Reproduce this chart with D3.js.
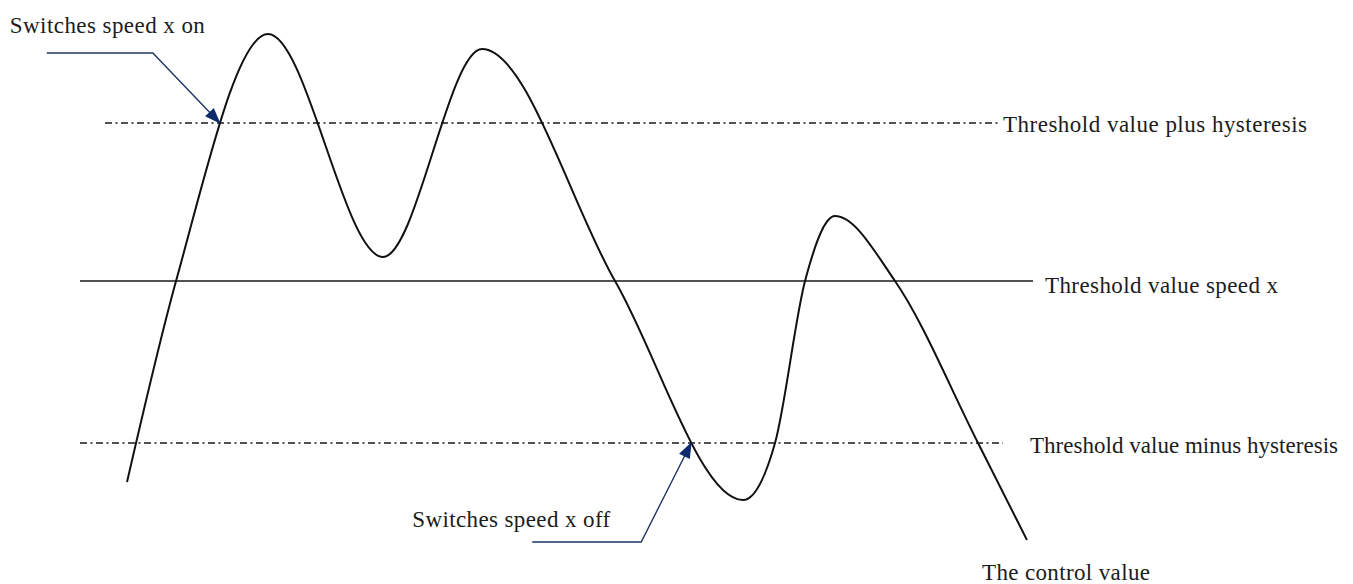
<!DOCTYPE html>
<html>
<head>
<meta charset="utf-8">
<script src="https://cdn.jsdelivr.net/npm/d3@7"></script>
<style>
  body { margin: 0; background: #fff; }
  text { font-family: "Liberation Serif", "Times New Roman", serif; fill: #1c1c1c; }
</style>
</head>
<body>
<script>
// control value over time (arbitrary units, threshold = 0, hysteresis = +/-1)
var timeVals    = [4.95, 10.11, 19.79, 31.89, 42.32, 56.32, 69.79, 73.16, 76.32, 79.47, 85.79, 94.53, 99.68];
var controlVals = [-1.272, 0, 1.563, 0.152, 1.468, 0, -1.386, -1.025, 0, 0.411, 0, -1.025, -1.639];

// the three horizontal levels
var levelNames  = ["Threshold value plus hysteresis", "Threshold value speed x", "Threshold value minus hysteresis"];
var levelVals   = [1, 0, -1.025];
var levelStart  = [2.63, 0, 0];
var levelEnd    = [96.95, 100.32, 97.16];
var levelDashed = [true, false, true];

// switching points: which level, and which crossing of it
var noteTexts = ["Switches speed x on", "Switches speed x off"];
var noteLevel = [0, 2];
var noteCross = [0, 1];
var curveName = "The control value";

var W = 1353, H = 584;
var x = d3.scaleLinear().domain([0, 100]).range([80, 1030]);
var y = d3.scaleLinear().domain([-1.025, 1]).range([443, 123]);

var svg = d3.select("body").append("svg")
  .attr("width", W)
  .attr("height", H);

svg.append("defs").append("marker")
  .attr("id", "head")
  .attr("markerUnits", "userSpaceOnUse")
  .attr("markerWidth", 18)
  .attr("markerHeight", 14)
  .attr("viewBox", "0 -7 16 14")
  .attr("refX", 15)
  .attr("refY", 0)
  .attr("orient", "auto")
  .append("path")
  .attr("d", "M0,-6L16,0L0,6Z")
  .attr("fill", "#0d2a6b");

//level lines with labels
var labelPos = [[1003, 132], [1045, 293], [1030, 453]];
var labelLen = [304, 233, 308];
levelVals.forEach(function(v, i) {
  svg.append("line")
    .attr("x1", x(levelStart[i]))
    .attr("x2", x(levelEnd[i]))
    .attr("y1", y(v))
    .attr("y2", y(v))
    .attr("stroke", "#1a1a1a")
    .attr("stroke-width", levelDashed[i] ? 1.4 : 1.6)
    .attr("stroke-dasharray", levelDashed[i] ? "7,3.5,2,3.5" : null);
  svg.append("text")
    .attr("x", labelPos[i][0])
    .attr("y", labelPos[i][1])
    .attr("font-size", 23)
    .attr("textLength", labelLen[i])
    .attr("lengthAdjust", "spacing")
    .text(levelNames[i]);
});

//the control value curve
var pts = timeVals.map(function(t, i) { return [t, controlVals[i]]; });
var line = d3.line()
  .x(function(d) { return x(d[0]); })
  .y(function(d) { return y(d[1]); })
  .curve(d3.curveMonotoneX);

var curve = svg.append("path")
  .datum(pts)
  .attr("d", line)
  .attr("fill", "none")
  .attr("stroke", "#111")
  .attr("stroke-width", 2);

var last = pts[pts.length - 1];
svg.append("text")
  .attr("x", x(last[0]) - 45)
  .attr("y", y(last[1]) + 40)
  .attr("font-size", 23)
  .attr("textLength", 168)
  .attr("lengthAdjust", "spacing")
  .text(curveName);

//where the drawn curve crosses a horizontal level
function crossings(ly) {
  var node = curve.node(), len = node.getTotalLength();
  var out = [], prev = node.getPointAtLength(0);
  for (var s = 0.5; s <= len; s += 0.5) {
    var p = node.getPointAtLength(s);
    if ((prev.y - ly) * (p.y - ly) <= 0 && prev.y != p.y) {
      var f = (ly - prev.y) / (p.y - prev.y);
      out.push([prev.x + f * (p.x - prev.x), ly]);
    }
    prev = p;
  }
  return out;
}

//callouts for switching on and off
var elbow = [[-67, -70], [-50, 99]];
var tail  = [[-173, -70], [-159, 99]];
var txtOff = [[-210, -90], [-279, 84]];
var txtLen = [195, 198];
noteTexts.forEach(function(txt, i) {
  var c = crossings(y(levelVals[noteLevel[i]]))[noteCross[i]];
  var px = c[0], py = c[1];
  svg.append("polyline")
    .attr("points", [
      [px + tail[i][0], py + tail[i][1]],
      [px + elbow[i][0], py + elbow[i][1]],
      [px, py]
    ].map(function(p) { return p.join(","); }).join(" "))
    .attr("fill", "none")
    .attr("stroke", "#1f3566")
    .attr("stroke-width", 1.4)
    .attr("marker-end", "url(#head)");
  svg.append("text")
    .attr("x", px + txtOff[i][0])
    .attr("y", py + txtOff[i][1])
    .attr("font-size", 23)
    .attr("textLength", txtLen[i])
    .attr("lengthAdjust", "spacing")
    .text(txt);
});
</script>
</body>
</html>
